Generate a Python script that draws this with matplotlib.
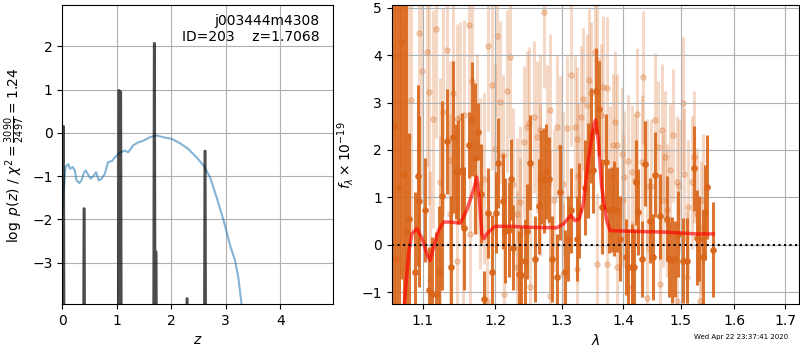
import matplotlib
matplotlib.use('Agg')
import numpy as np
import matplotlib.pyplot as plt
from matplotlib.ticker import NullLocator, FixedLocator

# ---- left panel: log p(z) spikes and chi2 curve ----
SPIKE_Z = [0.02, 0.40, 1.04, 1.07, 1.69, 1.72, 2.29, 2.62]
SPIKE_LOGP = [0.15, -1.75, 0.98, 0.95, 2.07, -2.75, -3.83, -0.42]

CHI2_Z = [0.0, 0.02, 0.06, 0.11, 0.14, 0.19, 0.23, 0.26, 0.31, 0.35, 0.40, 0.43,
          0.48, 0.52, 0.57, 0.62, 0.67, 0.72, 0.78, 0.84, 0.91, 0.97, 1.06, 1.15,
          1.21, 1.30, 1.39, 1.49, 1.61, 1.73, 1.85, 2.01, 2.16, 2.31, 2.46, 2.59,
          2.71, 2.83, 2.96, 3.08, 3.17, 3.23, 3.29, 3.33]
CHI2_CURVE = [-1.9, -1.41, -0.79, -0.72, -0.83, -0.79, -0.87, -1.10, -1.16, -1.10, -0.91, -0.87,
              -0.98, -1.06, -1.00, -0.91, -1.10, -1.06, -0.95, -0.68, -0.65, -0.56, -0.45, -0.41,
              -0.45, -0.29, -0.22, -0.18, -0.10, -0.06, -0.10, -0.14, -0.24, -0.37, -0.56, -0.75,
              -1.02, -1.48, -2.02, -2.60, -2.95, -3.33, -3.96, -4.6]

# ---- right panel: spectrum ----
MODEL_WAVE = [1.0760, 1.0817, 1.0860, 1.0925, 1.0996, 1.1057, 1.1101, 1.1146, 1.1213, 1.1280,
              1.1371, 1.1508, 1.1600, 1.1694, 1.1741, 1.1779, 1.1812, 1.1845, 1.1883, 1.1930,
              1.2002, 1.2220, 1.2517, 1.2924, 1.3028, 1.3143, 1.3211, 1.3280, 1.3344, 1.3424,
              1.3505, 1.3543, 1.3586, 1.3641, 1.3723, 1.3778, 1.3999, 1.4691, 1.5290, 1.5599]
MODEL_FLUX = [-1.30, -0.19, 0.23, 0.34, 0.13, -0.19, -0.33, -0.05, 0.30, 0.48,
              0.48, 0.46, 0.73, 1.15, 1.43, 0.94, 0.23, 0.13, 0.23, 0.30,
              0.39, 0.39, 0.37, 0.36, 0.44, 0.62, 0.51, 0.55, 0.87, 1.78,
              2.49, 2.63, 2.20, 1.22, 0.51, 0.30, 0.29, 0.27, 0.23, 0.23]

DARK_WAVE = [1.0624, 1.0654, 1.0688, 1.0718, 1.0752, 1.0786, 1.0817, 1.0903, 1.0934, 1.0960,
             1.1035, 1.1092, 1.1124, 1.1181, 1.1226, 1.1266, 1.1335, 1.1380, 1.1416, 1.1453,
             1.1485, 1.1531, 1.1568, 1.1638, 1.1680, 1.1717, 1.1751, 1.1798, 1.1836, 1.1906,
             1.1954, 1.2017, 1.2051, 1.2114, 1.2148, 1.2210, 1.2230, 1.2270, 1.2346, 1.2380,
             1.2444, 1.2478, 1.2517, 1.2594, 1.2645, 1.2681, 1.2721, 1.2763, 1.2805, 1.2851,
             1.2924, 1.2976, 1.3054, 1.3106, 1.3143, 1.3239, 1.3281, 1.3370, 1.3424, 1.3461,
             1.3505, 1.3543, 1.3602, 1.3641, 1.3712, 1.3767, 1.3806, 1.3845, 1.3889, 1.3944,
             1.4038, 1.4083, 1.4140, 1.4180, 1.4214, 1.4254, 1.4310, 1.4368, 1.4455, 1.4513,
             1.4542, 1.4631, 1.4748, 1.4793, 1.4835, 1.4894, 1.4954, 1.5045, 1.5105, 1.5240,
             1.5290, 1.5340, 1.5402, 1.5446, 1.5489, 1.5599]
DARK_FLUX = [2.50, -0.30, 1.20, 4.27, 1.50, 0.30, 0.55, -0.58, 1.46, 0.92,
             0.74, -0.95, -1.03, -1.03, -0.58, 1.04, 2.18, -0.47, 2.27, 1.54,
             1.54, 1.57, 0.35, 2.11, 2.65, 1.82, 2.38, 1.08, -1.15, 0.68,
             -0.58, 0.68, 1.73, 0.92, 0.30, 0.32, 1.38, -0.06, -0.61, -0.63,
             -0.35, 0.29, 1.73, -0.30, 0.81, 1.43, 1.36, 1.55, 1.38, -0.30,
             -0.68, 1.11, -0.58, 0.13, 0.73, 0.13, 0.73, 1.20, 1.56, 2.31,
             1.57, 3.24, 2.87, 0.80, 1.75, 0.73, 0.74, 0.76, 0.74, 0.13,
             -0.26, -0.47, -0.47, -0.47, 1.32, 0.69, -0.30, 1.71, 0.51, -0.26,
             1.48, 0.60, 0.55, -0.30, -0.32, -0.30, 0.23, -0.33, -0.33, 1.61,
             0.15, 0.13, -0.26, 0.69, 1.22, -0.10]
DARK_ERR = [6.0, 6.0, 6.0, 5.0, 6.0, 5.0, 1.8, 1.7, 1.9, 1.8,
            1.1, 0.9, 1.2, 1.3, 1.4, 2.0, 1.1, 1.5, 1.6, 1.0,
            1.1, 1.2, 1.3, 0.7, 1.2, 1.6, 0.6, 1.05, 0.6, 0.95,
            1.2, 0.85, 0.95, 1.0, 1.1, 1.0, 0.85, 0.9, 0.9, 1.0,
            0.9, 1.0, 1.0, 0.9, 1.0, 1.0, 1.1, 1.0, 0.9, 0.9,
            0.9, 1.0, 0.9, 0.9, 0.9, 0.9, 1.0, 1.0, 1.0, 1.0,
            0.9, 0.9, 1.0, 1.0, 1.0, 0.9, 0.9, 1.0, 0.9, 0.9,
            0.8, 0.8, 0.9, 0.8, 0.9, 0.9, 0.8, 0.9, 0.9, 0.9,
            0.9, 0.9, 0.9, 0.8, 0.9, 0.8, 0.9, 0.9, 0.9, 0.9,
            1.0, 0.9, 1.0, 1.0, 1.1, 1.0]

LIGHT_WAVE = [1.0688, 1.0731, 1.0804, 1.0851, 1.0960, 1.0987, 1.1057, 1.1092, 1.1146, 1.1181,
              1.1235, 1.1280, 1.1335, 1.1371, 1.1416, 1.1462, 1.1508, 1.1568, 1.1638, 1.1671,
              1.1741, 1.1789, 1.1845, 1.1906, 1.1954, 1.2007, 1.2027, 1.2076, 1.2114, 1.2172,
              1.2220, 1.2260, 1.2321, 1.2370, 1.2420, 1.2468, 1.2507, 1.2569, 1.2620, 1.2660,
              1.2721, 1.2774, 1.2816, 1.2877, 1.2924, 1.2976, 1.3028, 1.3090, 1.3143, 1.3211,
              1.3249, 1.3302, 1.3344, 1.3397, 1.3440, 1.3472, 1.3532, 1.3570, 1.3625, 1.3668,
              1.3734, 1.3778, 1.3822, 1.3861, 1.3900, 1.3972, 1.4010, 1.4083, 1.4140, 1.4197,
              1.4236, 1.4310, 1.4339, 1.4409, 1.4467, 1.4542, 1.4601, 1.4660, 1.4720, 1.4763,
              1.4805, 1.4864, 1.4924, 1.4973, 1.5045, 1.5063, 1.5135, 1.5197, 1.5240, 1.5290,
              1.5365, 1.5415, 1.1554, 1.1462, 1.1235, 1.1101, 1.1883, 1.2124, 1.2321, 1.2517,
              1.2826, 1.3028, 1.3239, 1.3559, 1.3723, 1.3889, 1.4140, 1.4397, 1.4631, 1.4924,
              1.5105, 1.5352, 1.2670, 1.3265, 1.2370, 1.2826, 1.3999, 1.4691, 1.1647, 1.1371]
LIGHT_FLUX = [3.96, 4.55, 2.27, 3.05, 4.46, 3.66, 4.06, 3.23, 2.65, 4.55,
              1.32, 2.80, 4.11, 1.78, 3.19, 2.66, 2.70, 2.73, 4.63, 3.45,
              2.13, 1.29, 1.39, 4.19, 3.37, 2.01, 4.40, 3.01, 1.89, 3.24,
              3.96, 1.29, 0.65, 0.90, 2.17, 2.49, 2.56, 2.70, 2.27, 2.42,
              4.90, 2.20, 2.84, 0.94, 2.49, 2.06, 1.29, 2.47, 3.58, 2.49,
              2.24, 2.70, 3.08, 2.94, 3.47, 3.19, 4.07, 3.89, 2.73, 3.32,
              3.30, 1.43, 2.10, 2.58, 2.10, 1.92, 1.43, 1.76, 1.54, 1.36,
              2.75, 1.75, 3.53, 1.25, 1.25, 2.64, 2.06, 2.42, 1.85, 0.73,
              1.57, 2.31, 1.32, 1.25, 2.98, 1.49, 0.80, 1.32, 1.85, 0.65,
              0.37, 0.94, 0.65, -0.33, 0.09, -0.75, -1.18, -1.04, -0.47, -0.89,
              -1.07, -0.61, -0.51, -0.40, -0.40, -0.47, -0.89, -1.11, -0.82, -1.18,
              -0.68, -1.18, 1.36, 1.46, 0.23, 0.51, 0.94, 0.94, 0.23, 0.65]
LIGHT_ERR = [3.0, 3.0, 2.8, 2.8, 2.6, 2.6, 2.4, 2.4, 2.3, 2.3,
             2.2, 2.2, 2.1, 2.1, 2.0, 2.0, 2.0, 2.0, 1.9, 1.9,
             1.9, 1.8, 1.8, 1.8, 1.8, 1.8, 1.7, 1.7, 1.7, 1.7,
             1.7, 1.6, 1.6, 1.6, 1.6, 1.6, 1.6, 1.6, 1.6, 1.6,
             1.6, 1.6, 1.6, 1.5, 1.5, 1.5, 1.5, 1.5, 1.5, 1.5,
             1.5, 1.5, 1.5, 1.5, 1.5, 1.5, 1.5, 1.5, 1.5, 1.5,
             1.5, 1.5, 1.5, 1.5, 1.5, 1.4, 1.4, 1.4, 1.4, 1.4,
             1.4, 1.4, 1.4, 1.4, 1.4, 1.4, 1.4, 1.4, 1.4, 1.4,
             1.4, 1.4, 1.4, 1.4, 1.4, 1.4, 1.4, 1.4, 1.4, 1.4,
             1.4, 1.4, 2.0, 2.0, 2.2, 2.3, 1.8, 1.7, 1.6, 1.6,
             1.5, 1.5, 1.5, 1.5, 1.5, 1.5, 1.4, 1.4, 1.4, 1.4,
             1.4, 1.4, 1.6, 1.5, 1.6, 1.5, 1.4, 1.4, 1.9, 2.1]

SPEC_COLOR = '#d9661a'
STAMP = 'Wed Apr 22 23:37:41 2020'


def spike_line(centers, peaks, half_width=0.024, floor=-10):
    # each redshift peak drawn as a narrow spike dropping below the plot
    zz, pp = [], []
    for c, p in zip(centers, peaks):
        zz.extend([c - half_width, c - half_width / 5, c + half_width / 5, c + half_width, np.nan])
        pp.extend([floor, p, p, floor, np.nan])
    return zz, pp


def plot_pz(ax):
    ax.plot(CHI2_Z, CHI2_CURVE, color='#1f77b4', alpha=0.55, lw=1.5)
    zz, pp = spike_line(SPIKE_Z, SPIKE_LOGP)
    ax.plot(zz, pp, color='k', alpha=0.7, lw=1.8)

    ax.set_xlim(0, 4.97)
    ax.set_ylim(-3.96, 2.95)
    ax.set_xticks([0, 1, 2, 3, 4])
    ax.set_yticks([-3, -2, -1, 0, 1, 2])
    ax.grid(True)
    ax.set_xlabel('$z$')
    ax.set_ylabel(r'$\log\ p(z)$' + ' / ' + r'$\chi^2=\frac{3090}{2497}=1.24$')
    ax.text(0.95, 0.97, 'j003444m4308\nID=203    z=1.7068', transform=ax.transAxes,
            ha='right', va='top', fontsize=10)


def plot_spectrum(ax):
    ax.errorbar(LIGHT_WAVE, LIGHT_FLUX, yerr=LIGHT_ERR, marker='o', linestyle='None',
                color=SPEC_COLOR, alpha=0.25, ms=3.8, elinewidth=2.2, zorder=1)
    ax.errorbar(DARK_WAVE, DARK_FLUX, yerr=DARK_ERR, marker='o', linestyle='None',
                color=SPEC_COLOR, alpha=0.9, ms=3.8, elinewidth=2.2, zorder=2)
    ax.plot(MODEL_WAVE, MODEL_FLUX, color='r', alpha=0.65, lw=2.5, zorder=3)
    ax.axhline(0, color='k', linestyle=':', lw=1.5, zorder=4)

    ax.set_xscale('log')
    ax.set_xlim(1.06, 1.7295)
    ax.set_ylim(-1.25, 5.05)
    ticks = [1.1, 1.2, 1.3, 1.4, 1.5, 1.6, 1.7]
    ax.xaxis.set_major_locator(FixedLocator(ticks))
    ax.xaxis.set_minor_locator(NullLocator())
    ax.set_xticklabels([f'{t:.1f}' for t in ticks])
    ax.set_yticks([-1, 0, 1, 2, 3, 4, 5])
    ax.grid(True)
    ax.set_xlabel(r'$\lambda$')
    ax.set_ylabel(r'$f_\lambda\times10^{-19}$')


def main():
    fig = plt.figure(figsize=(8, 3.5), dpi=100)
    ax_pz = fig.add_axes([0.0779, 0.131, 0.3384, 0.854])
    ax_sp = fig.add_axes([0.4896, 0.131, 0.5095, 0.854])
    plot_pz(ax_pz)
    plot_spectrum(ax_sp)
    fig.text(0.8675, 0.028, STAMP, fontsize=5, ha='left', va='bottom')
    fig.savefig('out.png', dpi=100)
    plt.close(fig)


if __name__ == "__main__":
    main()
